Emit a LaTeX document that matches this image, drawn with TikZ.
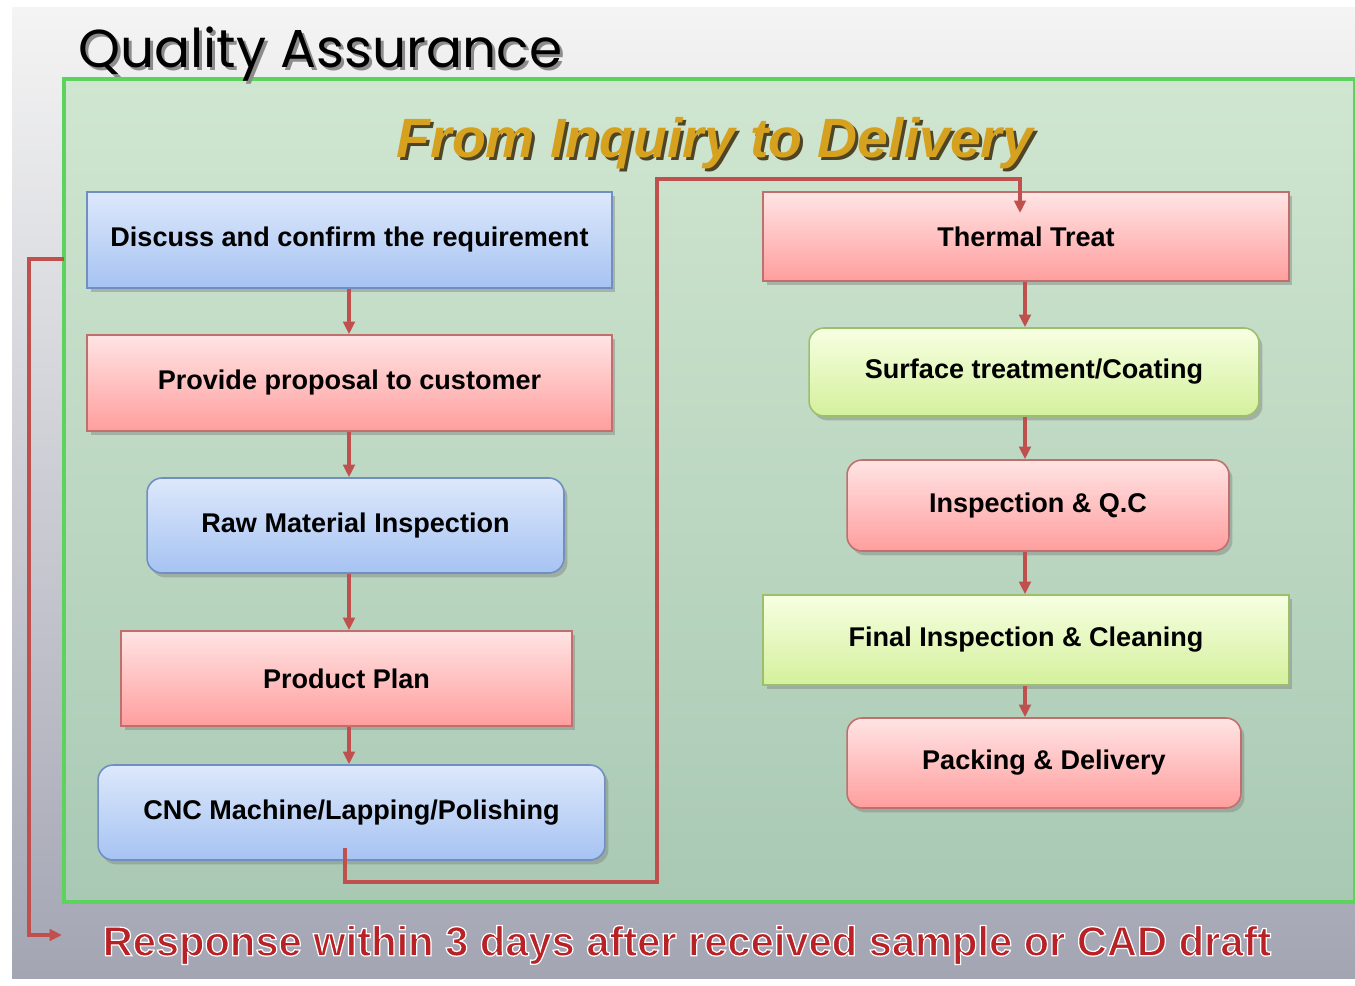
\documentclass[tikz,border=0pt]{standalone}
\usepackage{fontspec}
\setmainfont{Liberation Sans}
\newfontfamily\qafont{Poppins}
\usetikzlibrary{positioning,shadows,arrows.meta}

\definecolor{linkred}{HTML}{C0504D}
\definecolor{blueA}{HTML}{DDE8FB}
\definecolor{blueB}{HTML}{A6C3F2}
\definecolor{boxblue}{HTML}{6F8FC0}
\definecolor{pinkA}{HTML}{FFE4E4}
\definecolor{pinkB}{HTML}{FF9E9E}
\definecolor{boxpink}{HTML}{BF6F6C}
\definecolor{limeA}{HTML}{F7FFE2}
\definecolor{limeB}{HTML}{D4F09C}
\definecolor{boxlime}{HTML}{9CBF6E}
\definecolor{gold}{HTML}{D6A11E}
\definecolor{goldshadow}{HTML}{4E4426}
\definecolor{respred}{HTML}{B82226}
\definecolor{slideA}{HTML}{F4F4F4}
\definecolor{slideB}{HTML}{A8AAB8}
\definecolor{slideC}{HTML}{A3A5B3}
\definecolor{panelA}{HTML}{D0E6D0}
\definecolor{panelB}{HTML}{B8D6BE}
\definecolor{panelC}{HTML}{A9C9B4}
\definecolor{panelrim}{HTML}{5CD35C}

% white rim round a text
\newcommand{\rimtext}[1]{\special{pdf:code q 2 Tr 0.7 w 1 1 1 RG}#1\special{pdf:code Q}}

\tikzset{
  box/.style={draw, line width=0.9pt, font=\fontsize{15.4}{18}\selectfont\bfseries,
    drop shadow={shadow xshift=2pt, shadow yshift=-2.5pt, opacity=.45}},
  bluebox/.style={box, draw=boxblue, top color=blueA, bottom color=blueB},
  pinkbox/.style={box, draw=boxpink, top color=pinkA, bottom color=pinkB},
  limebox/.style={box, draw=boxlime, top color=limeA, bottom color=limeB},
  rnd/.style={rounded corners=0.3cm},
  flow/.style={draw=linkred, line width=1.9pt, -{Triangle[length=0.25cm,width=0.23cm]}},
}

\begin{document}
\begin{tikzpicture}[x=0.02cm, y=-0.02cm]
\useasboundingbox (0,0) rectangle (1355,986);
\fill[white] (0,0) rectangle (1355,986);
% slide background
\fill[top color=slideA, middle color=slideB, bottom color=slideC] (12,8) rectangle (1355,978);
% green panel
\draw[draw=panelrim, line width=2pt, top color=panelA, middle color=panelB, bottom color=panelC] (64,79) rectangle (1355,902);

% titles
\node[text=black!45, anchor=base west, font=\qafont\fontsize{30.4}{32}\selectfont] (qa shadow) at (75,71) {Quality Assurance};
\node[text=black, anchor=base west, font=\qafont\fontsize{30.4}{32}\selectfont] (qa) at (72,68) {Quality Assurance};
\node[text=goldshadow, font=\fontsize{31.5}{34}\selectfont\bfseries\itshape] (from shadow) at (718,146) {From Inquiry to Delivery};
\node[text=gold, font=\fontsize{31.5}{34}\selectfont\bfseries\itshape] (from) at (715,143) {From Inquiry to Delivery};

% left column
\node[bluebox, minimum width=10.5cm, minimum height=1.92cm] (discuss) at (349.5,240) {Discuss and confirm the requirement};
\node[pinkbox, minimum width=10.5cm, minimum height=1.92cm] (proposal) at (349.5,383) {Provide proposal to customer};
\node[bluebox, rnd, minimum width=8.34cm, minimum height=1.9cm] (raw) at (355.5,525.5) {Raw Material Inspection};
\node[pinkbox, minimum width=9.02cm, minimum height=1.9cm] (plan) at (346.5,678.5) {Product Plan};
\node[bluebox, rnd, minimum width=10.14cm, minimum height=1.9cm] (cnc) at (351.5,812.5) {CNC Machine/Lapping/Polishing};

% right column
\node[pinkbox, minimum width=10.52cm, minimum height=1.78cm] (thermal) at (1026,236.5) {Thermal Treat};
\node[limebox, rnd, minimum width=9cm, minimum height=1.76cm] (surface) at (1034,372) {Surface treatment/Coating};
\node[pinkbox, rnd, minimum width=7.64cm, minimum height=1.82cm] (qc) at (1038,505.5) {Inspection \& Q.C};
\node[limebox, minimum width=10.52cm, minimum height=1.8cm] (final) at (1026,640) {Final Inspection \& Cleaning};
\node[pinkbox, rnd, minimum width=7.88cm, minimum height=1.8cm] (packing) at (1044,763) {Packing \& Delivery};

% bottom line
\node[text=respred, font=\fontsize{23.7}{26}\selectfont\bfseries] (resp) at (687,945) {\rimtext{Response within 3 days after received sample or CAD draft}};

% connectors
\coordinate (colL) at (349,0);
\coordinate (colR) at (1025,0);
\draw[flow] (discuss.south -| colL) -- (proposal.north -| colL);
\draw[flow] (proposal.south -| colL) -- (raw.north -| colL);
\draw[flow] (raw.south -| colL) -- (plan.north -| colL);
\draw[flow] (plan.south -| colL) -- (cnc.north -| colL);
\draw[flow] (thermal.south -| colR) -- (surface.north -| colR);
\draw[flow] (surface.south -| colR) -- (qc.north -| colR);
\draw[flow] (qc.south -| colR) -- (final.north -| colR);
\draw[flow] (final.south -| colR) -- (packing.north -| colR);

\coordinate (cncout) at (345,848);
\coordinate (jog) at (657,882);
\coordinate (hi) at (657,179);
\coordinate (ttin) at (1020,213);
\draw[flow] (cncout) |- (jog) -- (hi) -| (ttin);

\coordinate (fbk) at (64,259);
\coordinate (fbkturn) at (29,935);
\coordinate (respin) at (62,935);
\draw[flow] (fbk) -| (fbkturn) -- (respin);
\end{tikzpicture}
\end{document}
